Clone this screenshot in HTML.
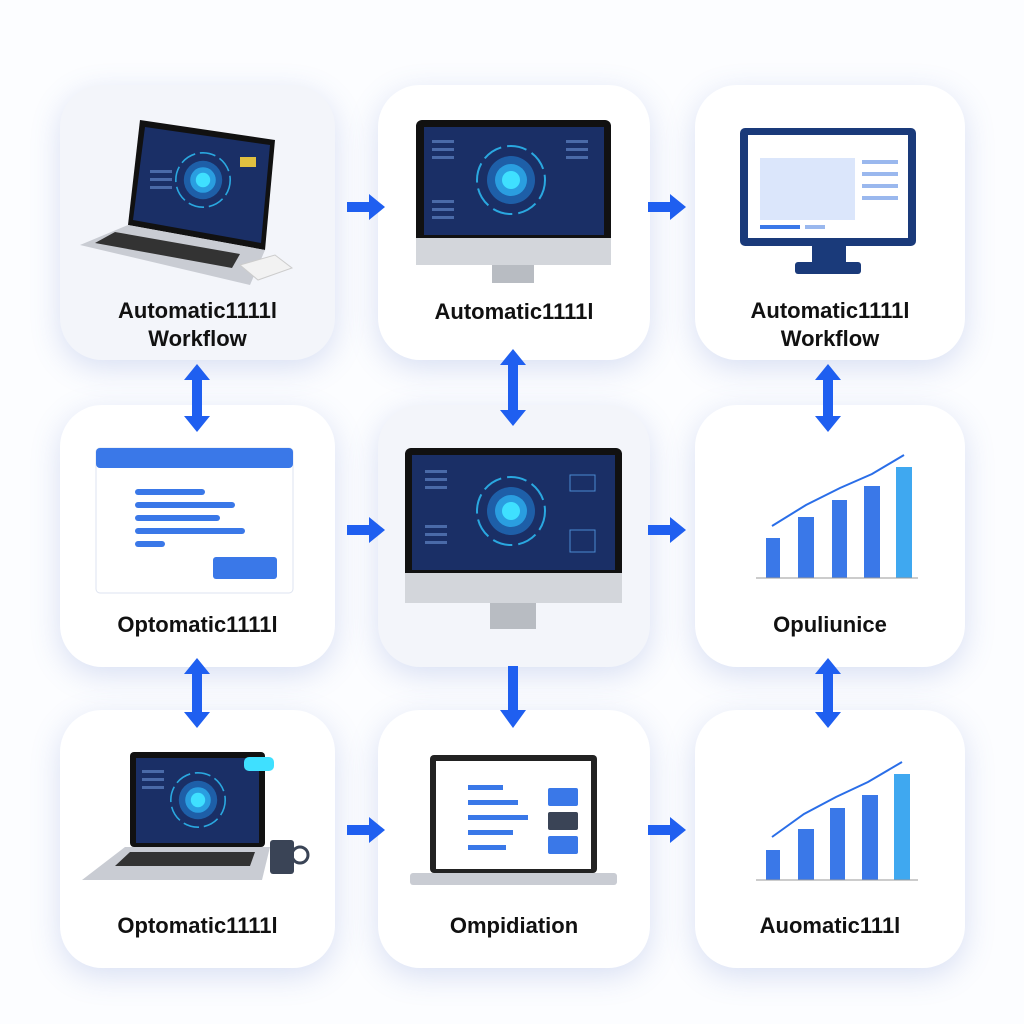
<!DOCTYPE html>
<html><head><meta charset="utf-8"><style>
body{margin:0;width:1024px;height:1024px;background:#fcfdff;font-family:"Liberation Sans",sans-serif;position:relative;overflow:hidden}
.card{position:absolute;background:#fff;border-radius:42px;box-shadow:0 8px 30px rgba(90,120,200,.22)}
.lbl{position:absolute;width:100%;text-align:center;font-weight:bold;font-size:22px;color:#111;line-height:28px}
svg{position:absolute;left:0;top:0}
</style></head><body>
<div class="card" style="left:60px;top:85px;width:275px;height:275px;background:#f3f5fa"><div class="lbl" style="top:212px">Automatic1111l<br>Workflow</div></div>
<div class="card" style="left:378px;top:85px;width:272px;height:275px"><div class="lbl" style="top:213px">Automatic1111l</div></div>
<div class="card" style="left:695px;top:85px;width:270px;height:275px"><div class="lbl" style="top:212px">Automatic1111l<br>Workflow</div></div>
<div class="card" style="left:60px;top:405px;width:275px;height:262px"><div class="lbl" style="top:206px">Optomatic1111l</div></div>
<div class="card" style="left:378px;top:405px;width:272px;height:262px;background:#f3f5fa"></div>
<div class="card" style="left:695px;top:405px;width:270px;height:262px"><div class="lbl" style="top:206px">Opuliunice</div></div>
<div class="card" style="left:60px;top:710px;width:275px;height:258px"><div class="lbl" style="top:202px">Optomatic1111l</div></div>
<div class="card" style="left:378px;top:710px;width:272px;height:258px"><div class="lbl" style="top:202px">Ompidiation</div></div>
<div class="card" style="left:695px;top:710px;width:270px;height:258px"><div class="lbl" style="top:202px">Auomatic111l</div></div>
<svg width="1024" height="1024" viewBox="0 0 1024 1024">
<defs>
<g id="ra"><rect x="0" y="-5" width="24" height="10" fill="#1f5ff0"/><polygon points="22,-13 38,0 22,13" fill="#1f5ff0"/></g>
<g id="glow"><circle r="34" fill="none" stroke="#2aa8e0" stroke-width="2" stroke-dasharray="20 6"/><circle r="24" fill="#1e5fa8"/><circle r="16" fill="#2a9ee0"/><circle r="9" fill="#3fe0ff"/></g>
<g id="side" fill="#4a6aa8"><rect x="0" y="0" width="22" height="3"/><rect x="0" y="8" width="22" height="3"/><rect x="0" y="16" width="22" height="3"/></g>
</defs>
<use href="#ra" x="347" y="207"/><use href="#ra" x="648" y="207"/>
<use href="#ra" x="347" y="530"/><use href="#ra" x="648" y="530"/>
<use href="#ra" x="347" y="830"/><use href="#ra" x="648" y="830"/>
<g fill="#1f5ff0">
<rect x="192" y="378" width="10" height="40"/><polygon points="184,380 197,364 210,380"/><polygon points="184,416 197,432 210,416"/>
<rect x="508" y="362" width="10" height="50"/><polygon points="500,365 513,349 526,365"/><polygon points="500,410 513,426 526,410"/>
<rect x="823" y="378" width="10" height="40"/><polygon points="815,380 828,364 841,380"/><polygon points="815,416 828,432 841,416"/>
<rect x="192" y="672" width="10" height="42"/><polygon points="184,674 197,658 210,674"/><polygon points="184,712 197,728 210,712"/>
<rect x="508" y="666" width="10" height="46"/><polygon points="500,710 513,728 526,710"/>
<rect x="823" y="672" width="10" height="42"/><polygon points="815,674 828,658 841,674"/><polygon points="815,712 828,728 841,712"/>
</g>
<polygon points="140,120 275,140 265,250 128,225" fill="#111"/>
<polygon points="145,127 270,145 261,243 133,220" fill="#1a2f66"/>
<use href="#glow" transform="translate(203,180) scale(.8)"/>
<rect x="240" y="157" width="16" height="10" fill="#e0c040"/>
<use href="#side" x="150" y="170"/>
<polygon points="128,225 265,250 250,285 80,245" fill="#c9ccd3"/>
<polygon points="115,232 240,254 232,268 95,243" fill="#333"/>
<polygon points="240,265 275,255 292,268 258,280" fill="#f2f2f2" stroke="#ccc"/>
<rect x="416" y="120" width="195" height="145" rx="6" fill="#111"/>
<rect x="424" y="127" width="180" height="108" fill="#1a2f66"/>
<use href="#side" x="432" y="140"/><use href="#side" x="566" y="140"/><use href="#side" x="432" y="200"/>
<rect x="416" y="238" width="195" height="27" fill="#d3d6db"/>
<rect x="492" y="265" width="42" height="18" fill="#b8bcc2"/>
<use href="#glow" transform="translate(511,180)"/>
<rect x="740" y="128" width="176" height="118" rx="5" fill="#1a3a7a"/>
<rect x="748" y="135" width="160" height="103" fill="#fff"/>
<rect x="760" y="158" width="95" height="62" fill="#dbe6fb"/>
<g fill="#9ab8ee"><rect x="862" y="160" width="36" height="4"/><rect x="862" y="172" width="36" height="4"/><rect x="862" y="184" width="36" height="4"/><rect x="862" y="196" width="36" height="4"/><rect x="760" y="225" width="40" height="4" fill="#3a78e8"/><rect x="805" y="225" width="20" height="4"/></g>
<rect x="812" y="246" width="34" height="16" fill="#1a3a7a"/><rect x="795" y="262" width="66" height="12" rx="3" fill="#1a3a7a"/>
<rect x="96" y="448" width="197" height="145" rx="4" fill="#fff" stroke="#dde3f0"/>
<rect x="96" y="448" width="197" height="20" rx="4" fill="#3a78e8"/>
<g fill="#3a78e8"><rect x="135" y="489" width="70" height="6" rx="3"/><rect x="135" y="502" width="100" height="6" rx="3"/><rect x="135" y="515" width="85" height="6" rx="3"/><rect x="135" y="528" width="110" height="6" rx="3"/><rect x="135" y="541" width="30" height="6" rx="3"/><rect x="213" y="557" width="64" height="22" rx="3"/></g>
<rect x="405" y="448" width="217" height="155" rx="6" fill="#111"/>
<rect x="412" y="455" width="203" height="115" fill="#1a2f66"/>
<use href="#side" x="425" y="470"/><use href="#side" x="425" y="525"/>
<rect x="570" y="475" width="25" height="16" fill="none" stroke="#4a8ad0"/><rect x="570" y="530" width="25" height="22" fill="none" stroke="#4a8ad0"/>
<rect x="405" y="573" width="217" height="30" fill="#d3d6db"/>
<rect x="490" y="603" width="46" height="26" fill="#b8bcc2"/>
<use href="#glow" transform="translate(511,511)"/>
<g fill="#3a78e8"><rect x="766" y="538" width="14" height="40"/><rect x="798" y="517" width="16" height="61"/><rect x="832" y="500" width="15" height="78"/><rect x="864" y="486" width="16" height="92"/><rect x="896" y="467" width="16" height="111" fill="#3fa8f0"/></g>
<polyline points="772,526 806,505 840,488 872,474 904,455" fill="none" stroke="#2a6ee8" stroke-width="2"/>
<line x1="756" y1="578" x2="918" y2="578" stroke="#999"/>
<rect x="130" y="752" width="135" height="95" rx="4" fill="#111"/>
<rect x="136" y="758" width="123" height="85" fill="#1a2f66"/>
<use href="#side" x="142" y="770"/>
<use href="#glow" transform="translate(198,800) scale(.8)"/>
<polygon points="125,847 270,847 262,880 82,880" fill="#c9ccd3"/>
<polygon points="130,852 255,852 250,866 115,866" fill="#333"/>
<rect x="244" y="757" width="30" height="14" rx="5" fill="#3fe0ff"/>
<rect x="270" y="840" width="24" height="34" rx="3" fill="#3a4456"/><circle cx="300" cy="855" r="8" fill="none" stroke="#3a4456" stroke-width="3"/>
<rect x="430" y="755" width="167" height="118" rx="4" fill="#222"/>
<rect x="436" y="761" width="155" height="108" fill="#fff"/>
<g fill="#3a78e8"><rect x="468" y="785" width="35" height="5"/><rect x="468" y="800" width="50" height="5"/><rect x="468" y="815" width="60" height="5"/><rect x="468" y="830" width="45" height="5"/><rect x="468" y="845" width="38" height="5"/><rect x="548" y="788" width="30" height="18" rx="2"/><rect x="548" y="812" width="30" height="18" rx="2" fill="#3a4456"/><rect x="548" y="836" width="30" height="18" rx="2"/></g>
<rect x="410" y="873" width="207" height="12" rx="3" fill="#c9ccd3"/>
<g fill="#3a78e8"><rect x="766" y="850" width="14" height="30"/><rect x="798" y="829" width="16" height="51"/><rect x="830" y="808" width="15" height="72"/><rect x="862" y="795" width="16" height="85"/><rect x="894" y="774" width="16" height="106" fill="#3fa8f0"/></g>
<polyline points="772,837 804,814 836,797 868,782 902,762" fill="none" stroke="#2a6ee8" stroke-width="2"/>
<line x1="756" y1="880" x2="918" y2="880" stroke="#999"/>
</svg>
</body></html>
